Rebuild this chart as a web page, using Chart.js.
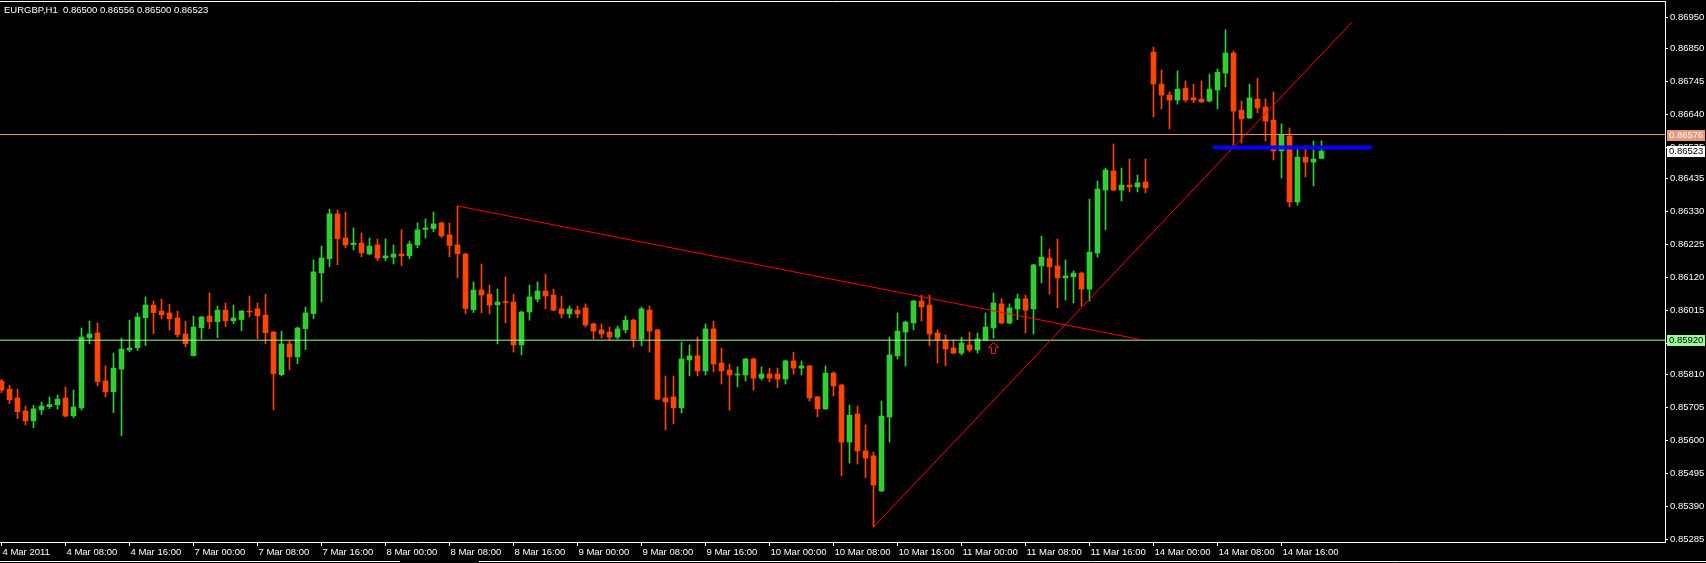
<!DOCTYPE html>
<html>
<head>
<meta charset="utf-8">
<script src="https://cdn.jsdelivr.net/npm/chart.js@4.4.1/dist/chart.umd.min.js"></script>
<style>
html,body{margin:0;padding:0;background:#000;overflow:hidden}
canvas{display:block}
</style>
</head>
<body>
<canvas id="c" width="1706" height="563"></canvas>
<script>
// ---------------- DATA ----------------
const headerText = "EURGBP,H1  0.86500 0.86556 0.86500 0.86523";

// one label every 8 hourly bars, first bar = 4 Mar 2011 00:00
const tickLabels = ["4 Mar 2011","4 Mar 08:00","4 Mar 16:00","7 Mar 00:00","7 Mar 08:00","7 Mar 16:00",
  "8 Mar 00:00","8 Mar 08:00","8 Mar 16:00","9 Mar 00:00","9 Mar 08:00","9 Mar 16:00",
  "10 Mar 00:00","10 Mar 08:00","10 Mar 16:00","11 Mar 00:00","11 Mar 08:00","11 Mar 16:00",
  "14 Mar 00:00","14 Mar 08:00","14 Mar 16:00"];

const yTickValues = [0.86950,0.86850,0.86745,0.86640,0.86535,0.86435,0.86330,0.86225,0.86120,
  0.86015,0.85910,0.85810,0.85705,0.85600,0.85495,0.85390,0.85285];

const openP = [
0.85790,0.85764,0.85736,0.85694,0.85663,0.85698,0.85708,0.85714,0.85736,0.85679,
0.85704,0.85928,0.85943,0.85790,0.85756,0.85828,0.85889,0.85896,0.85992,0.86032,
0.86013,0.86007,0.85991,0.85940,0.85871,0.85960,0.85997,0.85979,0.86016,0.85982,
0.85986,0.86013,0.86020,0.86000,0.85946,0.85810,0.85908,0.85867,0.85957,0.86005,
0.86135,0.86180,0.86323,0.86246,0.86225,0.86230,0.86195,0.86224,0.86183,0.86185,
0.86195,0.86189,0.86224,0.86273,0.86276,0.86294,0.86256,0.86224,0.86195,0.86017,
0.86080,0.86067,0.86033,0.86042,0.86042,0.85905,0.86010,0.86051,0.86077,0.86064,
0.86020,0.86004,0.86016,0.86023,0.85972,0.85953,0.85946,0.85930,0.85953,0.85984,
0.85924,0.86016,0.85953,0.85736,0.85739,0.85704,0.85857,0.85870,0.85822,0.85956,
0.85847,0.85825,0.85809,0.85809,0.85860,0.85799,0.85812,0.85812,0.85796,0.85854,
0.85831,0.85838,0.85739,0.85701,0.85815,0.85777,0.85595,0.85685,0.85567,0.85551,
0.85439,0.85675,0.85870,0.85946,0.85975,0.86045,0.86032,0.85943,0.85921,0.85895,
0.85879,0.85905,0.85889,0.85921,0.85959,0.86036,0.85975,0.86020,0.86052,0.86020,
0.86157,0.86182,0.86157,0.86119,0.86122,0.86134,0.86083,0.86198,0.86399,0.86460,
0.86399,0.86415,0.86409,0.86425,0.86839,0.86737,0.86702,0.86686,0.86724,0.86693,
0.86689,0.86683,0.86718,0.86772,0.86836,0.86654,0.86629,0.86689,0.86664,0.86622,
0.86524,0.86571,0.86361,0.86504,0.86488,0.86500];

const highP = [
0.85795,0.85776,0.85764,0.85710,0.85712,0.85723,0.85739,0.85745,0.85771,0.85761,
0.85959,0.85981,0.85975,0.85838,0.85879,0.85927,0.85984,0.86007,0.86058,0.86045,
0.86051,0.86035,0.86013,0.85981,0.85997,0.85996,0.86071,0.86029,0.86039,0.86032,
0.86015,0.86061,0.86039,0.86067,0.85948,0.85949,0.85917,0.85962,0.86026,0.86176,
0.86220,0.86338,0.86335,0.86329,0.86278,0.86262,0.86246,0.86243,0.86243,0.86224,
0.86272,0.86236,0.86294,0.86307,0.86329,0.86297,0.86294,0.86348,0.86198,0.86106,
0.86163,0.86096,0.86083,0.86122,0.86067,0.86013,0.86096,0.86106,0.86131,0.86083,
0.86061,0.86029,0.86029,0.86036,0.85975,0.85972,0.85962,0.85965,0.85997,0.85988,
0.86026,0.86029,0.85955,0.85806,0.85806,0.85914,0.85905,0.85930,0.85972,0.85981,
0.85895,0.85844,0.85835,0.85862,0.85863,0.85835,0.85831,0.85831,0.85857,0.85882,
0.85854,0.85840,0.85741,0.85838,0.85819,0.85780,0.85713,0.85710,0.85650,0.85563,
0.85726,0.85930,0.86007,0.85981,0.86047,0.86064,0.86064,0.85953,0.85937,0.85921,
0.85930,0.85946,0.85943,0.86007,0.86071,0.86052,0.86036,0.86067,0.86064,0.86162,
0.86252,0.86211,0.86243,0.86176,0.86141,0.86138,0.86370,0.86428,0.86469,0.86546,
0.86469,0.86498,0.86447,0.86498,0.86855,0.86782,0.86712,0.86779,0.86747,0.86737,
0.86747,0.86769,0.86785,0.86910,0.86843,0.86683,0.86737,0.86756,0.86690,0.86712,
0.86610,0.86597,0.86530,0.86540,0.86555,0.86556];

const lowP = [
0.85753,0.85718,0.85670,0.85650,0.85641,0.85683,0.85702,0.85700,0.85675,0.85673,
0.85697,0.85909,0.85774,0.85739,0.85689,0.85616,0.85883,0.85887,0.85903,0.85941,
0.85988,0.85953,0.85930,0.85899,0.85869,0.85924,0.85957,0.85928,0.85963,0.85973,
0.85950,0.85995,0.85925,0.85909,0.85698,0.85807,0.85826,0.85845,0.85890,0.85989,
0.86042,0.86155,0.86161,0.86215,0.86208,0.86186,0.86192,0.86174,0.86174,0.86163,
0.86158,0.86180,0.86215,0.86246,0.86266,0.86247,0.86186,0.86119,0.86005,0.86008,
0.86007,0.86004,0.85908,0.85975,0.85882,0.85873,0.85984,0.86042,0.86020,0.86014,
0.85991,0.85991,0.85991,0.85962,0.85924,0.85927,0.85921,0.85924,0.85943,0.85898,
0.85902,0.85882,0.85730,0.85634,0.85653,0.85688,0.85806,0.85806,0.85809,0.85819,
0.85780,0.85697,0.85771,0.85790,0.85761,0.85793,0.85787,0.85768,0.85780,0.85812,
0.85809,0.85726,0.85675,0.85699,0.85742,0.85487,0.85528,0.85525,0.85481,0.85324,
0.85437,0.85595,0.85860,0.85838,0.85953,0.85981,0.85902,0.85847,0.85838,0.85876,
0.85873,0.85882,0.85879,0.85919,0.85927,0.85972,0.85972,0.85985,0.85943,0.85940,
0.86103,0.86067,0.86023,0.86048,0.86039,0.86029,0.86045,0.86185,0.86272,0.86397,
0.86364,0.86393,0.86393,0.86390,0.86632,0.86658,0.86594,0.86673,0.86680,0.86677,
0.86678,0.86680,0.86658,0.86728,0.86536,0.86549,0.86627,0.86645,0.86555,0.86495,
0.86437,0.86345,0.86351,0.86441,0.86412,0.86500];

const closeP = [
0.85761,0.85730,0.85692,0.85663,0.85701,0.85710,0.85715,0.85732,0.85678,0.85707,
0.85930,0.85940,0.85788,0.85756,0.85831,0.85892,0.85895,0.85994,0.86032,0.86008,
0.86001,0.85988,0.85938,0.85909,0.85962,0.85994,0.85979,0.86016,0.85982,0.85991,
0.86013,0.86010,0.85998,0.85944,0.85813,0.85908,0.85867,0.85959,0.86007,0.86138,
0.86182,0.86323,0.86244,0.86224,0.86230,0.86199,0.86220,0.86182,0.86189,0.86195,
0.86189,0.86227,0.86272,0.86278,0.86291,0.86253,0.86222,0.86196,0.86021,0.86080,
0.86064,0.86032,0.86042,0.86040,0.85905,0.86010,0.86058,0.86077,0.86061,0.86016,
0.86004,0.86020,0.86004,0.85969,0.85949,0.85940,0.85930,0.85956,0.85984,0.85924,
0.86020,0.85949,0.85732,0.85723,0.85704,0.85860,0.85870,0.85822,0.85956,0.85844,
0.85822,0.85809,0.85812,0.85860,0.85799,0.85812,0.85799,0.85796,0.85854,0.85831,
0.85838,0.85736,0.85701,0.85815,0.85774,0.85595,0.85681,0.85567,0.85544,0.85458,
0.85678,0.85873,0.85949,0.85978,0.86045,0.86026,0.85940,0.85921,0.85892,0.85879,
0.85911,0.85889,0.85924,0.85962,0.86039,0.85975,0.86023,0.86052,0.86016,0.86160,
0.86185,0.86154,0.86119,0.86125,0.86134,0.86083,0.86201,0.86402,0.86463,0.86399,
0.86415,0.86409,0.86422,0.86406,0.86737,0.86702,0.86686,0.86721,0.86686,0.86686,
0.86680,0.86721,0.86775,0.86836,0.86651,0.86626,0.86693,0.86661,0.86619,0.86524,
0.86575,0.86361,0.86504,0.86488,0.86498,0.86523];

// horizontal price levels
const askLevel = 0.86576;
const supportLevel = 0.85920;
const lastClose = 0.86523;

// drawn objects (bar index, price)
const trendDownX = [57, 142.6],   trendDownY = [0.86348, 0.85921];
const trendUpX   = [109, 168.8],  trendUpY   = [0.85324, 0.86934];
const blueLevelX = [151.6, 171.15], blueLevelY = [0.86535, 0.86535];
const arrowX = [124], arrowY = [0.85895];

// ---------------- CHART ----------------
const UP = '#32CD32', DOWN = '#FF4500';
const X_MIN = -0.1875, X_MAX = 207.9375;
const Y_MIN = 0.852763, Y_MAX = 0.870020;

const idx = openP.map((_, i) => i);
const colors = idx.map(i => closeP[i] >= openP[i] ? UP : DOWN);
const bodyData = idx.map(i => ({x: i, y: [openP[i], closeP[i]]}));
const wickData = idx.map(i => ({x: i, y: [lowP[i], highP[i]]}));
const pts = (xs, ys) => xs.map((x, i) => ({x, y: ys[i]}));

// hollow up-arrow symbol
const arrowImg = document.createElement('canvas');
arrowImg.width = 11; arrowImg.height = 12;
(function(){
  const g = arrowImg.getContext('2d');
  g.strokeStyle = '#FF1A00'; g.lineWidth = 1;
  g.beginPath();
  g.moveTo(5.5, 0.5); g.lineTo(10.5, 5.5); g.lineTo(7.5, 5.5); g.lineTo(7.5, 11.5);
  g.lineTo(3.5, 11.5); g.lineTo(3.5, 5.5); g.lineTo(0.5, 5.5); g.closePath();
  g.stroke();
})();

const FONT = {family: "'Liberation Sans', Arial, sans-serif", size: 9.5};

const overlay = {
  id: 'overlay',
  afterDraw(chart) {
    const ctx = chart.ctx, ca = chart.chartArea, ys = chart.scales.y;
    ctx.save();
    // top frame line
    ctx.strokeStyle = '#ffffff'; ctx.lineWidth = 1;
    ctx.beginPath(); ctx.moveTo(0, 1.5); ctx.lineTo(ca.right + 0.5, 1.5); ctx.stroke();
    // window bottom edge
    ctx.beginPath(); ctx.moveTo(0, 561.5); ctx.lineTo(400, 561.5);
    ctx.moveTo(479, 561.5); ctx.lineTo(1706, 561.5); ctx.stroke();
    // header
    ctx.font = "9.5px 'Liberation Sans', Arial, sans-serif";
    ctx.fillStyle = '#ffffff'; ctx.textBaseline = 'middle'; ctx.textAlign = 'left';
    ctx.fillText(headerText, 4, 10);
    // price boxes on the axis
    const boxes = [
      {v: askLevel, bg: '#E9967A', fg: '#ffffff'},
      {v: lastClose, bg: '#ffffff', fg: '#000000'},
      {v: supportLevel, bg: '#98FB98', fg: '#000000'}
    ];
    boxes.forEach(b => {
      const y = Math.round(ys.getPixelForValue(b.v));
      ctx.fillStyle = b.bg;
      ctx.fillRect(ca.right + 2, y - 5, 38, 11);
      ctx.fillStyle = b.fg;
      ctx.fillText(b.v.toFixed(5), ca.right + 4, y + 0.5);
    });
    ctx.restore();
  }
};

new Chart(document.getElementById('c'), {
  type: 'bar',
  data: {
    datasets: [
      {type: 'line', label: 'level', data: pts(blueLevelX, blueLevelY), borderColor: '#0000FF',
       borderWidth: 4, borderCapStyle: 'round', pointRadius: 0, order: 0},
      {type: 'scatter', label: 'arrow', data: pts(arrowX, arrowY), pointStyle: arrowImg,
       pointRadius: 6, order: 0},
      {type: 'line', label: 'trendUp', data: pts(trendUpX, trendUpY), borderColor: '#FF0000',
       borderWidth: 1, pointRadius: 0, order: 1},
      {type: 'line', label: 'trendDown', data: pts(trendDownX, trendDownY), borderColor: '#FF0000',
       borderWidth: 1, pointRadius: 0, order: 1},
      {type: 'line', label: 'ask', data: pts([X_MIN, X_MAX], [askLevel, askLevel]), borderColor: '#E9967A',
       borderWidth: 1, pointRadius: 0, order: 2},
      {type: 'line', label: 'support', data: pts([X_MIN, X_MAX], [supportLevel, supportLevel]), borderColor: '#98FB98',
       borderWidth: 1, pointRadius: 0, order: 2},
      {label: 'body', data: bodyData, backgroundColor: colors, borderWidth: 0, barThickness: 5,
       grouped: false, minBarLength: 1, order: 5},
      {label: 'wick', data: wickData, backgroundColor: colors, borderWidth: 0, barThickness: 1,
       grouped: false, minBarLength: 1, order: 6}
    ]
  },
  options: {
    responsive: false,
    animation: false,
    events: [],
    layout: {autoPadding: false, padding: {top: 1, left: 0, right: 0, bottom: 0}},
    plugins: {legend: {display: false}, tooltip: {enabled: false}, title: {display: false}},
    scales: {
      x: {
        type: 'linear', min: X_MIN, max: X_MAX, offset: false,
        afterBuildTicks: s => { s.ticks = tickLabels.map((_, i) => ({value: i * 8})); },
        afterFit: s => { s.height = 21; s.paddingLeft = 0; s.paddingRight = 0; s.paddingTop = 0; s.paddingBottom = 0; },
        grid: {display: true, drawOnChartArea: false, drawTicks: true, tickLength: 4, color: '#ffffff', offset: false},
        border: {display: true, color: '#ffffff', width: 1},
        ticks: {
          color: '#ffffff', font: FONT, autoSkip: false, maxRotation: 0, minRotation: 0,
          align: 'start', padding: 1, labelOffset: 1,
          callback: v => tickLabels[Math.round(v / 8)] || ''
        }
      },
      y: {
        type: 'linear', position: 'right', min: Y_MIN, max: Y_MAX, beginAtZero: false,
        afterBuildTicks: s => { s.ticks = yTickValues.map(v => ({value: v})); },
        afterFit: s => { s.width = 41; s.paddingTop = 0; s.paddingBottom = 0; s.paddingLeft = 0; s.paddingRight = 0; },
        grid: {display: true, drawOnChartArea: false, drawTicks: true, tickLength: 3, color: '#ffffff'},
        border: {display: true, color: '#ffffff', width: 1},
        ticks: {color: '#ffffff', font: FONT, autoSkip: false, padding: 2,
          callback: v => Number(v).toFixed(5)}
      }
    }
  },
  plugins: [overlay]
});
</script>
</body>
</html>
